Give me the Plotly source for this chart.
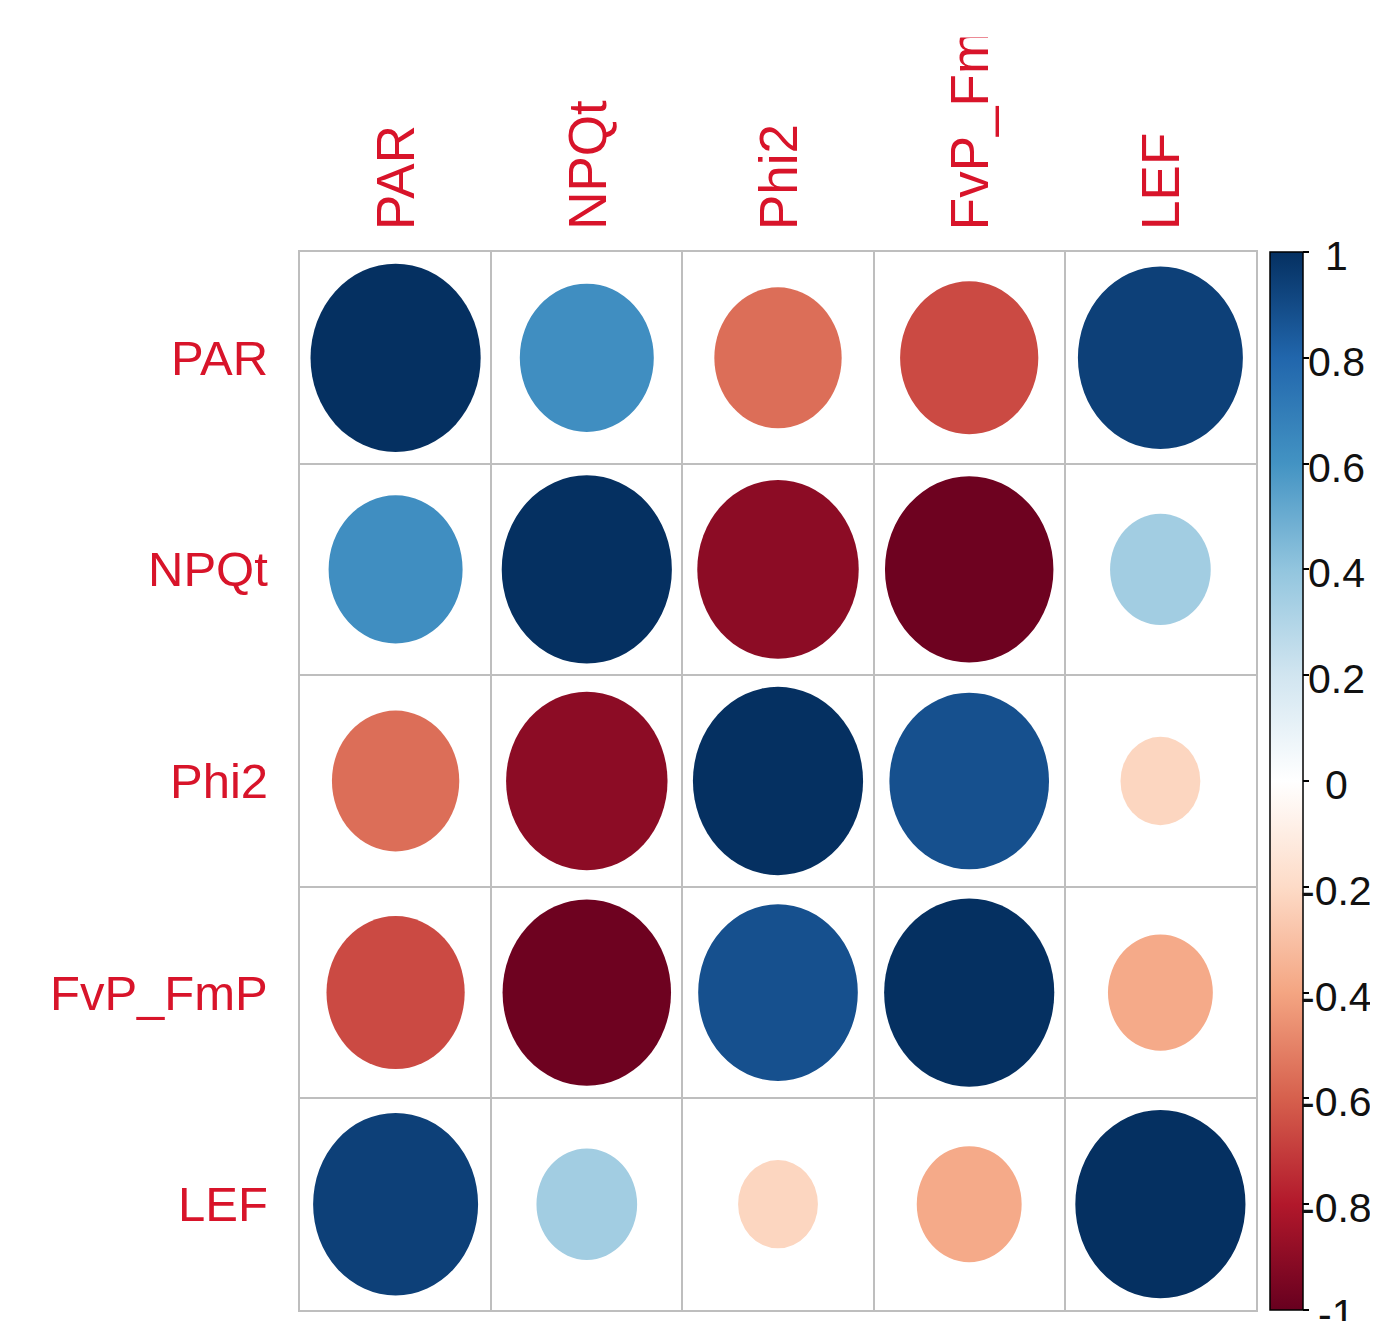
import numpy as np
import plotly.graph_objects as go
from plotly.colors import sample_colorscale

labels = ["PAR", "NPQt", "Phi2", "FvP_FmP", "LEF"]
row_PAR = [1.00, 0.62, -0.56, -0.66, 0.94]
row_NPQt = [0.62, 1.00, -0.90, -0.98, 0.35]
row_Phi2 = [-0.56, -0.90, 1.00, 0.88, -0.22]
row_FvP = [-0.66, -0.98, 0.88, 1.00, -0.38]
row_LEF = [0.94, 0.35, -0.22, -0.38, 1.00]
corr = [row_PAR, row_NPQt, row_Phi2, row_FvP, row_LEF]

cbar_vals = [1, 0.8, 0.6, 0.4, 0.2, 0, -0.2, -0.4, -0.6, -0.8, -1]
cbar_text = ["1", "0.8", "0.6", "0.4", "0.2", "0", "-0.2", "-0.4", "-0.6", "-0.8", "-1"]

rdbu = ["#67001F", "#B2182B", "#D6604D", "#F4A582", "#FDDBC7", "#FFFFFF",
        "#D1E5F0", "#92C5DE", "#4393C3", "#2166AC", "#053061"]
colorscale = [[i / (len(rdbu) - 1), c] for i, c in enumerate(rdbu)]

label_color = "#D8142A"
grid_color = "#BEBEBE"
FONT = "Liberation Sans, Arial, sans-serif"

fig = go.Figure()

n = len(labels)
shapes = []
for i in range(n):
    for j in range(n):
        r = corr[i][j]
        rad = 0.445 * np.sqrt(abs(r))
        col = sample_colorscale(colorscale, [(r + 1) / 2])[0]
        shapes.append(dict(type="circle", xref="x", yref="y",
                           x0=j + 1 - rad, x1=j + 1 + rad,
                           y0=i + 1 - rad, y1=i + 1 + rad,
                           fillcolor=col, line=dict(width=0), layer="above"))

# colorbar carrier
fig.add_trace(go.Scatter(
    x=[1], y=[1], mode="markers",
    marker=dict(size=0.1, color=[0], colorscale=colorscale, cmin=-1, cmax=1,
                showscale=True,
                colorbar=dict(
                    thickness=33, len=1, lenmode="fraction", y=0.5, yanchor="middle",
                    x=1.0146, xanchor="left", xpad=0, ypad=0,
                    outlinewidth=1.5, outlinecolor="black",
                    tickvals=cbar_vals, showticklabels=False,
                    ticks="outside", ticklen=6, tickcolor="black", tickwidth=1.5,
                )),
    hoverinfo="skip", showlegend=False))

annotations = []
for k, lab in enumerate(labels):
    annotations.append(dict(x=k + 1, xref="x", y=1, yref="paper", text=lab,
                            textangle=-90, xanchor="center", yanchor="bottom",
                            yshift=20, showarrow=False,
                            font=dict(family=FONT, size=53, color=label_color)))
    annotations.append(dict(x=0, xref="paper", y=k + 1, yref="y", text=lab,
                            xanchor="right", yanchor="middle", xshift=-30, showarrow=False,
                            font=dict(family=FONT, size=49, color=label_color)))
# colorbar labels, centred like R's colorlegend
for v, t in zip(cbar_vals, cbar_text):
    annotations.append(dict(x=1.0837, xref="paper", y=(v + 1) / 2, yref="paper", text=t,
                            xanchor="center", yanchor="middle", yshift=-4, showarrow=False,
                            font=dict(family=FONT, size=41, color="#111111")))
# white band at the very top (reference image is cut off there)
annotations.append(dict(x=0.5, xref="paper", y=1 + 214 / 1058, yref="paper", text=" ",
                        xanchor="center", yanchor="bottom", width=1500, height=60,
                        bgcolor="white", borderpad=0, showarrow=False))

grid_ticks = [0.5, 1.5, 2.5, 3.5, 4.5, 5.5]
fig.update_layout(
    width=1378, height=1321,
    margin=dict(l=292, r=130, t=244, b=19),
    paper_bgcolor="white", plot_bgcolor="white",
    shapes=shapes, annotations=annotations,
    xaxis=dict(range=[0.5, 5.5], tickvals=grid_ticks, showticklabels=False,
               showgrid=True, gridcolor=grid_color, gridwidth=1.5, zeroline=False,
               showline=True, mirror=True, linecolor=grid_color, linewidth=1.5, ticks=""),
    yaxis=dict(range=[5.5, 0.5], tickvals=grid_ticks, showticklabels=False,
               showgrid=True, gridcolor=grid_color, gridwidth=1.5, zeroline=False,
               showline=True, mirror=True, linecolor=grid_color, linewidth=1.5, ticks=""),
)

fig.write_html("out.html")
